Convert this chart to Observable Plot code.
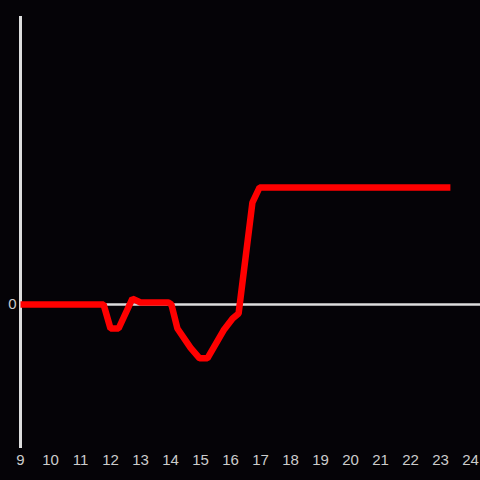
<!DOCTYPE html>
<html>
<head>
<meta charset="utf-8">
<script src="https://cdn.jsdelivr.net/npm/d3@7"></script>
<script src="https://cdn.jsdelivr.net/npm/@observablehq/plot@0.6"></script>
<style>
  html, body { margin: 0; padding: 0; background: #050307; }
  #chart { width: 480px; height: 480px; }
</style>
</head>
<body>
<div id="chart"></div>
<script>
const hours = [9, 11.77, 12.0, 12.27, 12.73, 13.0, 13.93, 14.03, 14.23, 14.67, 14.97, 15.23, 15.77, 16.07, 16.27, 16.73, 16.97, 23.33];
const values = [0, 0, -0.205, -0.205, 0.05, 0.017, 0.017, 0, -0.205, -0.37, -0.46, -0.46, -0.22, -0.12, -0.077, 0.87, 1.0, 1.0];
const xTicks = [9, 10, 11, 12, 13, 14, 15, 16, 17, 18, 19, 20, 21, 22, 23, 24];
const yTicks = [0];

const data = hours.map((h, i) => ({hour: h, value: values[i]}));

const chart = Plot.plot({
  width: 480,
  height: 480,
  marginTop: 16,
  marginBottom: 32,
  marginLeft: 20,
  marginRight: 0,
  style: {background: "#050307", color: "#cccccc", fontFamily: "Liberation Sans, Arial, sans-serif", fontSize: "15px"},
  x: {domain: [9, 24.333], ticks: xTicks, tickSize: 0, tickPadding: 6, label: null, tickFormat: d => String(d)},
  y: {domain: [-1.23, 2.46], ticks: yTicks, tickSize: 0, tickPadding: 4, label: null, tickFormat: d => String(d)},
  marks: [
    Plot.ruleY([0], {stroke: "#dddddd", strokeWidth: 2.5}),
    Plot.ruleX([9], {stroke: "#dddddd", strokeWidth: 3}),
    Plot.line(data, {x: "hour", y: "value", stroke: "#ff0000", strokeWidth: 6.5, strokeLinejoin: "miter", strokeLinecap: "butt"})
  ]
});
document.getElementById("chart").appendChild(chart);
</script>
</body>
</html>
